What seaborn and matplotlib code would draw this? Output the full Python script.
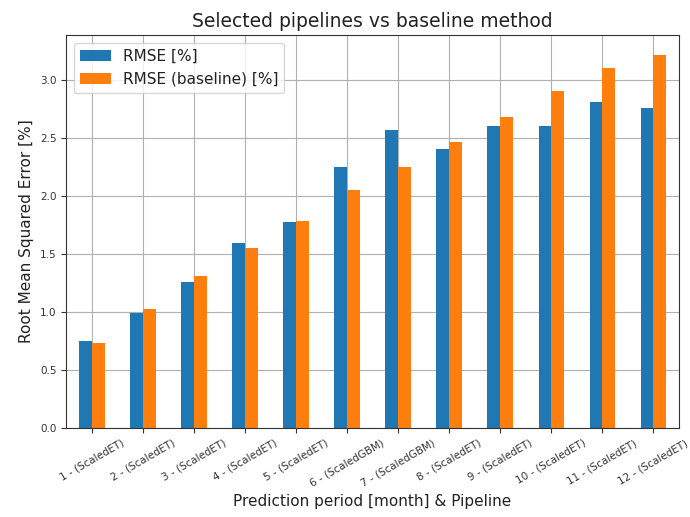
import matplotlib
matplotlib.use("Agg")
import matplotlib.pyplot as plt
import seaborn as sns
import pandas as pd

categories = ["1 - (ScaledET)", "2 - (ScaledET)", "3 - (ScaledET)", "4 - (ScaledET)",
              "5 - (ScaledET)", "6 - (ScaledGBM)", "7 - (ScaledGBM)", "8 - (ScaledET)",
              "9 - (ScaledET)", "10 - (ScaledET)", "11 - (ScaledET)", "12 - (ScaledET)"]
rmse = [0.75, 0.99, 1.26, 1.60, 1.78, 2.25, 2.57, 2.41, 2.61, 2.61, 2.81, 2.76]
rmse_baseline = [0.73, 1.03, 1.31, 1.55, 1.79, 2.05, 2.25, 2.47, 2.68, 2.91, 3.11, 3.22]
series_names = ["RMSE [%]", "RMSE (baseline) [%]"]

df = pd.DataFrame({
    "period": categories * 2,
    "value": rmse + rmse_baseline,
    "series": [series_names[0]] * len(categories) + [series_names[1]] * len(categories),
})

plt.rcParams['font.family'] = ['DejaVu Sans']
fig = plt.figure(figsize=(6.9, 5.17), dpi=100)
ax = fig.add_axes([0.096, 0.172, 0.888, 0.760])

sns.barplot(data=df, x="period", y="value", hue="series", order=categories,
            hue_order=series_names, palette=["#1f77b4", "#ff7f0e"],
            width=0.5, gap=0, saturation=1, ax=ax, edgecolor="none", legend=True)

ax.set_xlim(-0.5, len(categories) - 0.5)
ax.set_ylim(0, 3.39)
ax.grid(True, color="#b0b0b0", linewidth=0.8)
ax.set_axisbelow(True)
ax.set_yticks([0, 0.5, 1.0, 1.5, 2.0, 2.5, 3.0])
ax.tick_params(axis="y", labelsize=7.5, colors="#333333", labelcolor="#333333")
ax.tick_params(axis="x", labelsize=7.5, rotation=30, colors="#333333", labelcolor="#333333")
for lbl in ax.get_xticklabels():
    lbl.set_ha("center")
for s in ax.spines.values():
    s.set_color("#333333")
ax.set_title("Selected pipelines vs baseline method", fontsize=13.5, color="#222222")
ax.set_xlabel("Prediction period [month] & Pipeline", fontsize=11, color="#222222")
ax.set_ylabel("Root Mean Squared Error [%]", fontsize=11, color="#222222")
leg = ax.legend(loc="upper left", fontsize=11, title=None)
for t in leg.get_texts():
    t.set_color("#222222")

fig.savefig("out.png", dpi=100)
